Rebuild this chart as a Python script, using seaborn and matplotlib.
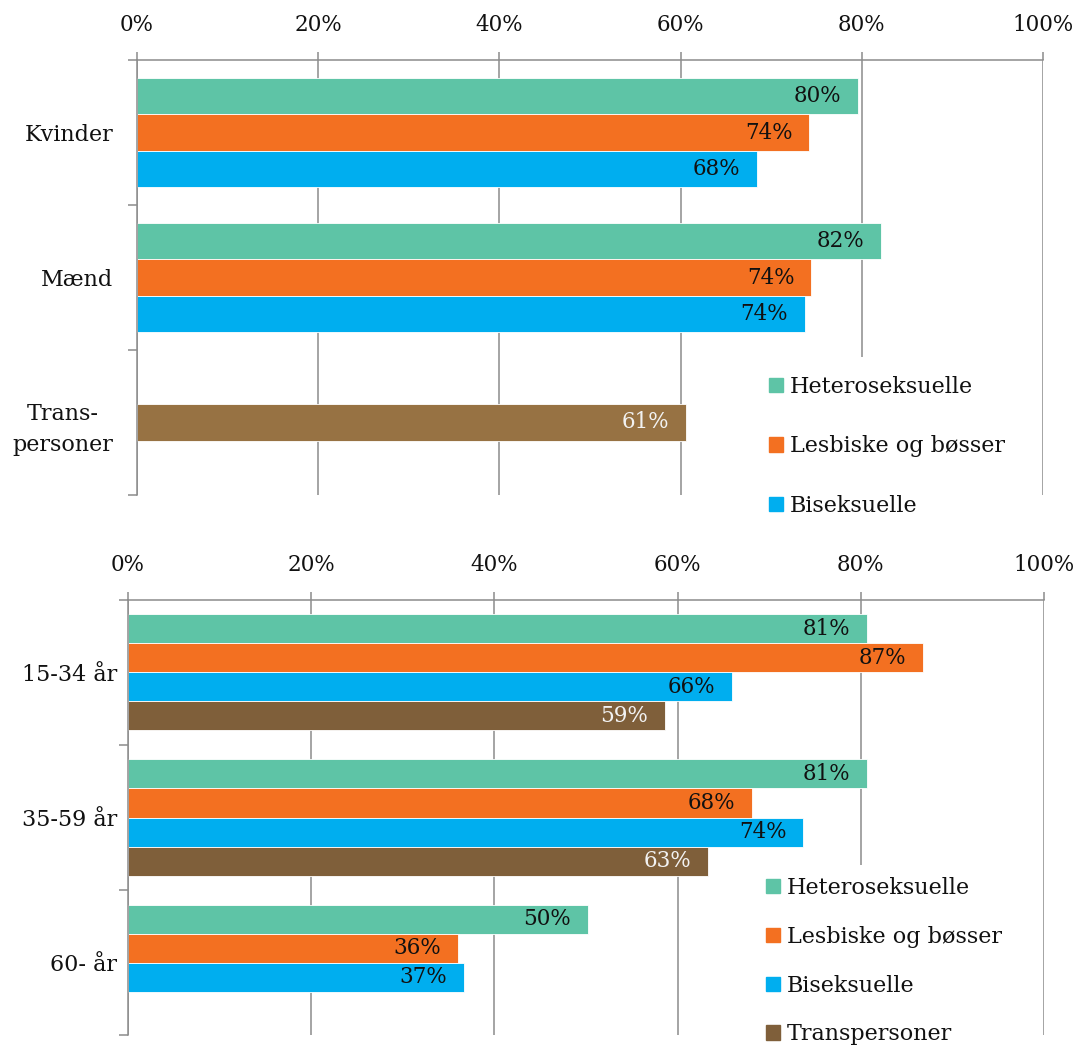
import numpy as np
import pandas as pd
import matplotlib
matplotlib.use('Agg')
import matplotlib.pyplot as plt
from matplotlib.patches import Patch
from matplotlib.ticker import FuncFormatter
import seaborn as sns

# --- data ---
groups = ['Heteroseksuelle', 'Lesbiske og bøsser', 'Biseksuelle', 'Transpersoner']

cats_gender = ['Kvinder', 'Mænd', 'Trans-\npersoner']
hetero_gender = [79.6, 82.1, np.nan]
lesbi_gender = [74.2, 74.4, np.nan]
bi_gender = [68.4, 73.7, np.nan]
trans_gender = [np.nan, np.nan, 60.6]

cats_age = ['15-34 år', '35-59 år', '60- år']
hetero_age = [80.7, 80.7, 50.2]
lesbi_age = [86.8, 68.1, 36.0]
bi_age = [65.9, 73.7, 36.7]
trans_age = [58.6, 63.3, np.nan]

x_ticks = [0, 20, 40, 60, 80, 100]

colors = {'Heteroseksuelle': '#5EC4A6', 'Lesbiske og bøsser': '#F37021',
          'Biseksuelle': '#00AEEF', 'Transpersoner': '#7F5F3A'}
trans_top_color = '#977243'
grid_col = '#8c8c8c'
ink = '#111111'

sns.set_style('white')
plt.rcParams['font.family'] = ['DejaVu Serif']
plt.rcParams['font.size'] = 16
plt.rcParams['text.color'] = ink
plt.rcParams['xtick.labelcolor'] = ink
plt.rcParams['ytick.labelcolor'] = ink


def long_df(cats, series):
    df = pd.DataFrame({'cat': cats, **series})
    return df.melt(id_vars='cat', var_name='group', value_name='val').dropna()


def style_axes(ax, ncat, label_pad):
    ax.set_xlim(0, 100)
    ax.set_ylim(ncat - 0.5, -0.5)
    ax.xaxis.tick_top()
    ax.set_xticks(x_ticks)
    ax.xaxis.set_major_formatter(FuncFormatter(lambda v, p: f'{v:.0f}%'))
    ax.tick_params(axis='x', length=6, width=1.1, color=grid_col, pad=11,
                   labelsize=15.5, labelcolor=ink)
    ax.set_yticks(range(ncat))
    ax.set_yticks(np.arange(-0.5, ncat, 1.0), minor=True)
    ax.tick_params(axis='y', which='major', length=0, pad=label_pad, labelsize=16,
                   labelcolor=ink)
    ax.tick_params(axis='y', which='minor', length=6.5, width=1.1, color=grid_col, left=True)
    ax.grid(axis='x', color=grid_col, lw=1.1)
    ax.set_axisbelow(True)
    for side in ['right', 'bottom']:
        ax.spines[side].set_visible(False)
    for side in ['top', 'left']:
        ax.spines[side].set_color(grid_col)
        ax.spines[side].set_linewidth(1.1)
    ax.set_xlabel('')
    ax.set_ylabel('')


def add_labels(ax, text_colors):
    for cont, col in zip(ax.containers, text_colors):
        anns = ax.bar_label(cont, fmt=lambda v: f'{v:.0f}%', padding=-12,
                            color=col, fontsize=15.5)
        for a in anns:
            a.set_ha('right')


fig = plt.figure(figsize=(10.81, 10.46), dpi=100)
ax1 = fig.add_axes([0.1267, 0.5268, 0.8382, 0.4158])
ax2 = fig.add_axes([0.1184, 0.0105, 0.8474, 0.4159])

# --- top panel: gender ---
df1 = long_df(cats_gender, {'Heteroseksuelle': hetero_gender,
                            'Lesbiske og bøsser': lesbi_gender,
                            'Biseksuelle': bi_gender})
sns.barplot(data=df1, x='val', y='cat', hue='group', hue_order=groups[:3],
            order=cats_gender, palette=colors, saturation=1, width=0.75,
            errorbar=None, orient='h', ax=ax1, legend=False, linewidth=0.6)
df1t = long_df(cats_gender, {'Transpersoner': trans_gender})
sns.barplot(data=df1t, x='val', y='cat', order=cats_gender, color=trans_top_color,
            saturation=1, width=0.25, errorbar=None, orient='h', ax=ax1, linewidth=0.6)
style_axes(ax1, len(cats_gender), 17)
for t in ax1.get_yticklabels():
    t.set_multialignment('center')
    t.set_linespacing(1.55)
add_labels(ax1, [ink, ink, ink, '#f2f2f2'])
ax1.legend([Patch(color=colors[g]) for g in groups[:3]], groups[:3],
           loc='upper left', bbox_to_anchor=(0.694, 0.6587), bbox_transform=fig.transFigure,
           frameon=True, facecolor='white', edgecolor='none', framealpha=1,
           handlelength=0.63, handleheight=0.63, handletextpad=0.3,
           labelspacing=1.69, borderpad=0.85, borderaxespad=0, fontsize=16)

# --- bottom panel: age ---
df2 = long_df(cats_age, {'Heteroseksuelle': hetero_age,
                         'Lesbiske og bøsser': lesbi_age,
                         'Biseksuelle': bi_age,
                         'Transpersoner': trans_age})
sns.barplot(data=df2, x='val', y='cat', hue='group', hue_order=groups,
            order=cats_age, palette=colors, saturation=1, width=0.8,
            errorbar=None, orient='h', ax=ax2, legend=False, linewidth=0.6)
style_axes(ax2, len(cats_age), 8)
add_labels(ax2, [ink, ink, ink, '#f2f2f2'])
ax2.legend([Patch(color=colors[g]) for g in groups], groups,
           loc='upper left', bbox_to_anchor=(0.698, 0.173), bbox_transform=fig.transFigure,
           frameon=True, facecolor='white', edgecolor='none', framealpha=1,
           handlelength=0.63, handleheight=0.63, handletextpad=0.3,
           labelspacing=1.21, borderpad=0.53, borderaxespad=0, fontsize=16)

fig.savefig('out.png', dpi=100)
